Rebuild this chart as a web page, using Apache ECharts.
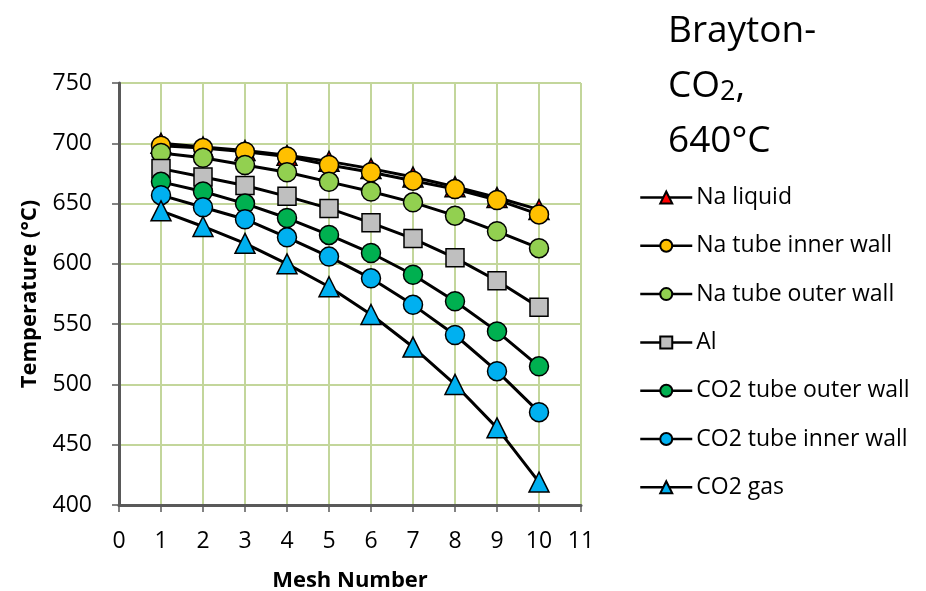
<!DOCTYPE html>
<html><head><meta charset="utf-8">
<script src="https://cdn.jsdelivr.net/npm/echarts@6/dist/echarts.min.js"></script>
<style>html,body{margin:0;padding:0;background:#fff}#c{width:926px;height:591px}</style>
</head><body><div id="c"></div>
<script>
var meshNumbers = [1,2,3,4,5,6,7,8,9,10];
var naLiquid      = [700,697,694,690,685,679,672,664,655,645];
var naInnerWall   = [698,696,693,689,682,676,669,662,653,641];
var naOuterWall   = [692,688,682,676,668,660,651,640,627,613];
var aluminium     = [679,672,665,656,646,634,621,605,586,564];
var co2OuterWall  = [668,660,650,638,624,609,591,569,544,515];
var co2InnerWall  = [657,647,637,622,606,588,566,541,511,477];
var co2Gas        = [644,631,617,600,581,558,531,500,464,419];

var seriesDefs = [
  {name:'Na liquid', data:naLiquid, symbol:'triangle', color:'#ff0000', size:20},
  {name:'Na tube inner wall', data:naInnerWall, symbol:'circle', color:'#ffc000', size:19},
  {name:'Na tube outer wall', data:naOuterWall, symbol:'circle', color:'#92d050', size:19},
  {name:'Al', data:aluminium, symbol:'rect', color:'#bfbfbf', size:18},
  {name:'CO2 tube outer wall', data:co2OuterWall, symbol:'circle', color:'#00b050', size:19},
  {name:'CO2 tube inner wall', data:co2InnerWall, symbol:'circle', color:'#00b0f0', size:19},
  {name:'CO2 gas', data:co2Gas, symbol:'triangle', color:'#00b0f0', size:20}
];

var font = '"Open Sans", Lato, sans-serif';
var chart = echarts.init(document.getElementById('c'));
chart.setOption({
  animation:false,
  backgroundColor:'#fff',
  title:{
    text:'{a|Brayton-}\n{a|CO}{s|2}{a|,}\n{a|640°C}',
    left:663, top:-1,
    textStyle:{fontWeight:'normal', rich:{
      a:{fontFamily:font, fontSize:37, fontWeight:'normal', color:'#000', lineHeight:55},
      s:{fontFamily:font, fontSize:27, fontWeight:'normal', color:'#000', lineHeight:47, verticalAlign:'bottom', padding:[0,0,8,0]}
    }}
  },
  legend:{
    orient:'vertical', left:634, top:181,
    itemWidth:52, itemHeight:15, itemGap:25.3,
    lineStyle:{width:2.5, color:'#000'},
    textStyle:{fontFamily:font, fontSize:23, lineHeight:20, color:'#000', padding:[0,0,0,-1]},
    data:seriesDefs.map(function(s){return s.name;})
  },
  grid:{left:119, right:345, top:83, bottom:86, containLabel:false, outerBoundsMode:'none'},
  xAxis:{
    type:'value', min:0, max:11, interval:1,
    name:'Mesh Number', nameLocation:'middle', nameGap:65,
    nameTextStyle:{fontFamily:font, fontSize:22, fontWeight:'bold', color:'#000'},
    axisLine:{show:true, onZero:false, lineStyle:{color:'#595959', width:3}},
    axisTick:{show:true, length:7, lineStyle:{color:'#595959', width:1.5}},
    axisLabel:{fontFamily:font, fontSize:23, color:'#000', margin:25},
    splitLine:{show:true, lineStyle:{color:'#c3d69b', width:2}}
  },
  yAxis:{
    type:'value', min:400, max:750, interval:50,
    name:'Temperature (°C)', nameLocation:'middle', nameGap:78, nameRotate:90,
    nameTextStyle:{fontFamily:font, fontSize:22, fontWeight:'bold', color:'#000'},
    axisLine:{show:true, lineStyle:{color:'#595959', width:3}},
    axisTick:{show:true, length:7, lineStyle:{color:'#595959', width:1.5}},
    axisLabel:{fontFamily:font, fontSize:23, color:'#000', margin:27},
    splitLine:{show:true, lineStyle:{color:'#c3d69b', width:2}}
  },
  series:seriesDefs.map(function(s){
    return {
      name:s.name, type:'line',
      data:meshNumbers.map(function(x,i){return [x, s.data[i]];}),
      symbol:s.symbol, symbolSize:s.size, showAllSymbol:true,
      lineStyle:{color:'#000', width:3},
      itemStyle:{color:s.color, borderColor:'#000', borderWidth:1.5},
      emphasis:{disabled:true}
    };
  })
});
</script></body></html>
